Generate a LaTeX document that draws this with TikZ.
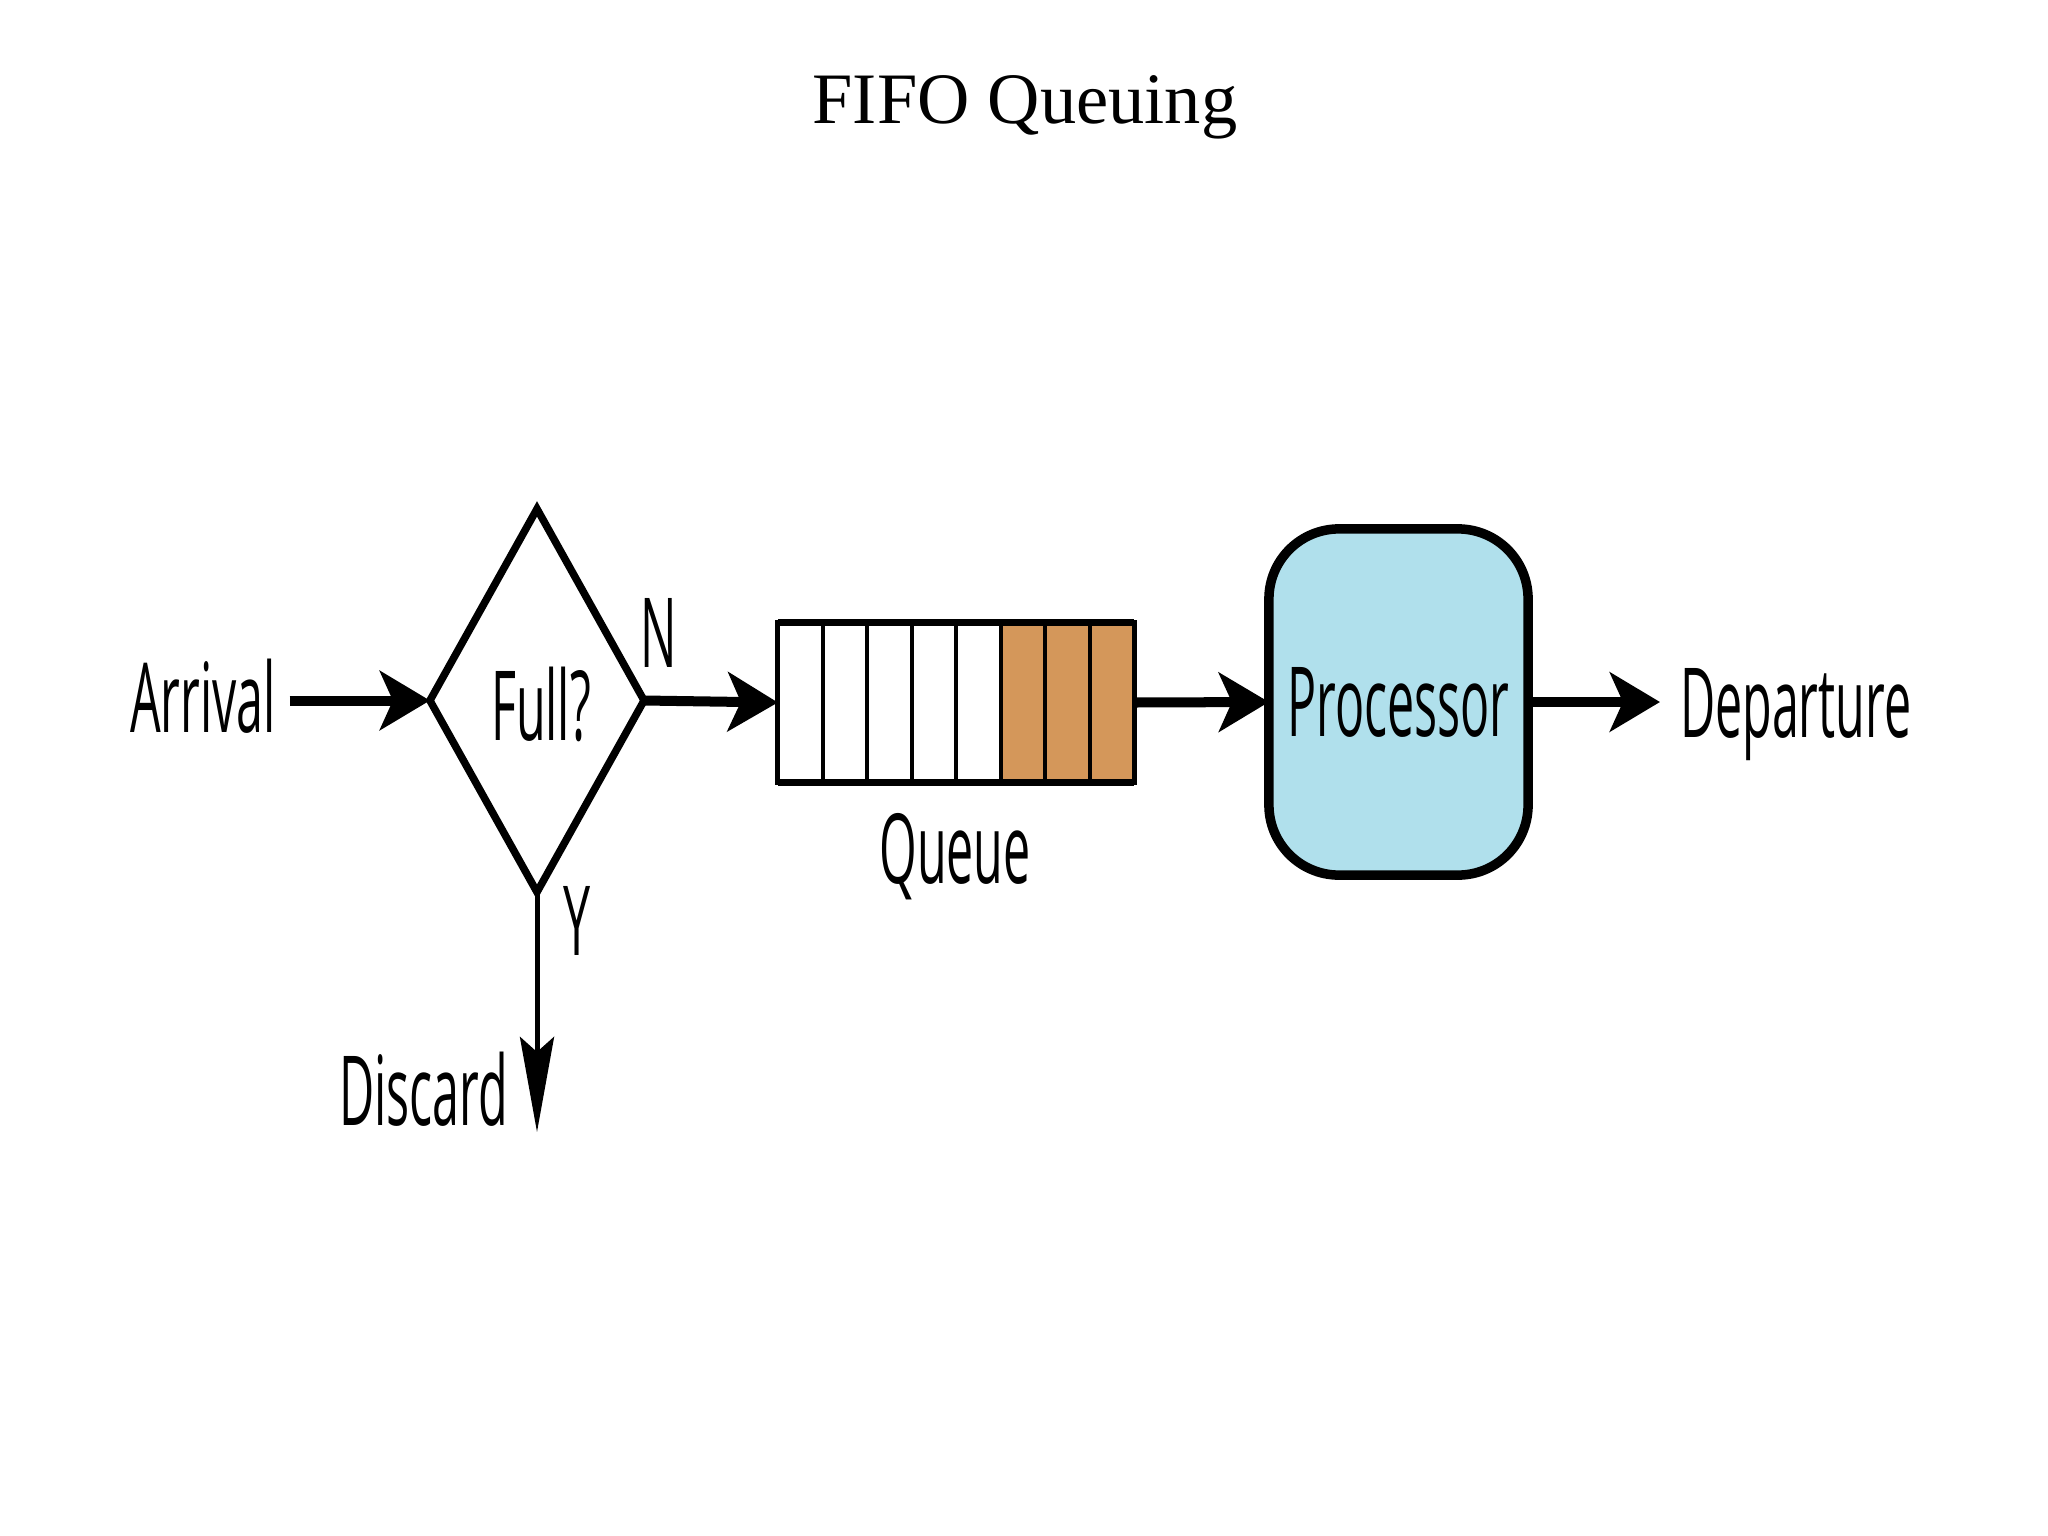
\documentclass[tikz,border=0pt]{standalone}
\usepackage{fontspec}
\setmainfont{Liberation Serif}
\newfontfamily\labfam{Open Sans}
\usetikzlibrary{arrows.meta,shapes.geometric}
\definecolor{qorange}{RGB}{212,151,90}
\definecolor{pblue}{RGB}{176,224,236}
\newcommand\narrowtext[1]{\scalebox{0.5}[1]{#1}}
\begin{document}
\begin{tikzpicture}[x=0.01cm,y=-0.01cm,
  lbl/.style={inner sep=0pt,outer sep=0pt,font={\labfam\fontsize{27.5pt}{33pt}\selectfont}},
  flow/.style={line width=0.1cm,-{Stealth[length=0.5cm,width=0.59cm,inset=0.13cm]}},
  discflow/.style={line width=0.05cm,-{Stealth[length=0.95cm,width=0.34cm,inset=0.15cm]}},
  decision/.style={diamond,draw,line width=0.075cm,minimum width=2.14cm,minimum height=3.83cm,inner sep=0pt,outer sep=0pt},
  queuebox/.style={draw,line width=0.05cm,minimum width=3.56cm,minimum height=1.59cm,inner sep=0pt,outer sep=0pt},
  cellline/.style={line width=0.04cm},
  edgeline/.style={line width=0.07cm},
  proc/.style={draw,line width=0.095cm,fill=pblue,rounded corners=0.7cm,minimum width=2.59cm,minimum height=3.46cm,inner sep=0pt,outer sep=0pt,font={\labfam\fontsize{27.5pt}{33pt}\selectfont}},
  titlestyle/.style={anchor=base,inner sep=0pt,font={\fontsize{20.6pt}{25pt}\selectfont}}
]
\path[use as bounding box,fill=white] (0,0) rectangle (2048,1536);

% title
\node[titlestyle] (title) at (1025,123) {FIFO Queuing};

% decision
\node[decision] (d) at (537,700.5) {};
\node[lbl,anchor=base] (fullq) at (541,740) {\narrowtext{Full?}};

% queue
\fill[qorange] (1000.5,623) rectangle (1134,782);
\foreach \i in {1,...,7} {
  \draw[cellline] ({778+\i*44.5},623) -- ({778+\i*44.5},782);
}
\node[queuebox] (q) at (956,702.5) {};
\draw[edgeline] (q.north west) -- (q.north east);
\draw[edgeline] (q.south west) -- (q.south east);
\node[lbl,anchor=base] (qlab) at (955,883) {\narrowtext{Queue}};

% processor
\node[proc] (p) at (1398.5,702) {\narrowtext{Processor}};

% labels
\node[lbl,anchor=base west] (arr) at (130,732) {\narrowtext{Arrival}};
\node[lbl,anchor=base west] (dep) at (1680,737) {\narrowtext{Departure}};
\node[lbl,anchor=base west] (nlab) at (640,667) {\narrowtext{N}};
\node[lbl,anchor=base] (ylab) at (577,955) {\narrowtext{Y}};
\node[lbl,anchor=base east] (disc) at (508,1125) {\narrowtext{Discard}};
\coordinate (dtip) at (537,1132);

% connectors
\draw[flow,shorten <=0.14cm] (arr.east |- d.west) -- (d.west);
\draw[flow] (d.east) -- (q.west);
\draw[flow] (q.east) -- (p.west);
\draw[flow,shorten >=0.2cm] (p.east) -- (dep.west |- p.east);
\draw[discflow] (d.south) -- (dtip);
\end{tikzpicture}
\end{document}
